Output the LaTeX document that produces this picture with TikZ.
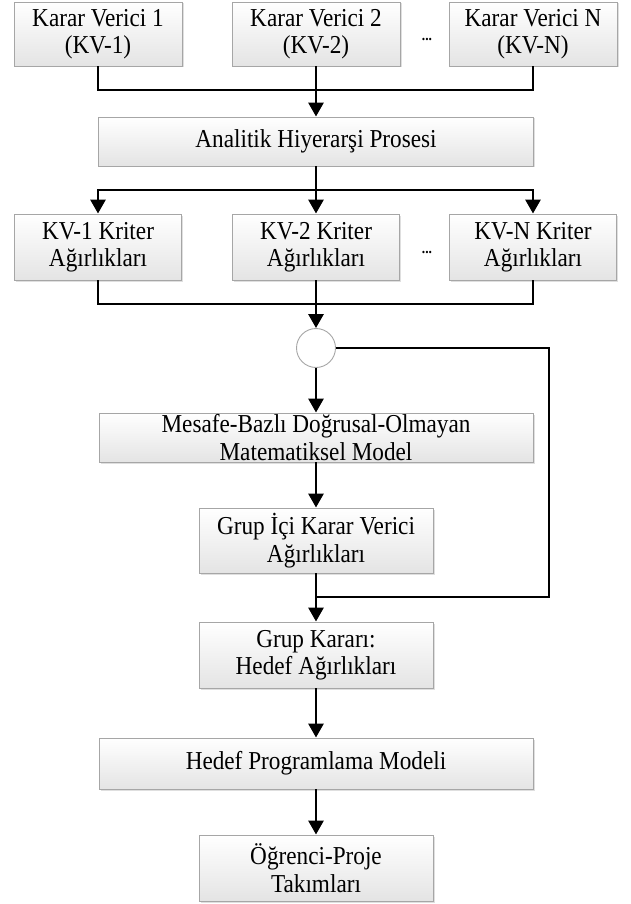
\documentclass[tikz,border=0pt]{standalone}
\usepackage{fontspec}
\setmainfont{Liberation Serif}[FakeStretch=0.9]
\usetikzlibrary{arrows.meta,shadows}
\definecolor{boxline}{HTML}{A6A6A6}
\definecolor{boxbot}{HTML}{E4E4E4}
\tikzset{
  box/.style={draw=boxline, line width=0.9pt, top color=white, bottom color=boxbot,
    align=center, inner sep=0pt, font=\fontsize{25.8}{27.5}\selectfont,
    drop shadow={shadow xshift=1.5pt, shadow yshift=-1.5pt, fill=black!25, opacity=0.5}},
  junction/.style={circle, draw=boxline, line width=0.9pt, fill=white, minimum size=39pt, inner sep=0pt},
  link/.style={line width=2.9pt, line cap=butt},
  flow/.style={link, -{Triangle[length=14pt,width=15pt]}},
  dots/.style={font=\fontsize{15}{15}\selectfont\bfseries, inner sep=0pt}
}
\begin{document}
\begin{tikzpicture}[x=1pt, y=-1pt]
\useasboundingbox (0,0) rectangle (631,904);

% decision makers
\node[box, minimum width=168pt, minimum height=64pt] (kv1) at (98,34) {Karar Verici 1\\(KV-1)};
\node[box, minimum width=168pt, minimum height=64pt] (kv2) at (316,34) {Karar Verici 2\\(KV-2)};
\node[box, minimum width=168pt, minimum height=64pt] (kvn) at (533,34) {Karar Verici N\\(KV-N)};
\node[dots] (d1) at (427,39) {...};

\node[box, minimum width=435pt, minimum height=49pt] (ahp) at (316,141.5) {Analitik Hiyerarşi Prosesi};

% criteria weights
\node[box, minimum width=167pt, minimum height=66pt] (kr1) at (98,247) {KV-1 Kriter\\Ağırlıkları};
\node[box, minimum width=167pt, minimum height=66pt] (kr2) at (316,247) {KV-2 Kriter\\Ağırlıkları};
\node[box, minimum width=167pt, minimum height=66pt] (krn) at (533,247) {KV-N Kriter\\Ağırlıkları};
\node[dots] (d2) at (427,252) {...};

\node[junction] (sum) at (316,348) {};

\node[box, minimum width=434pt, minimum height=49pt] (mm) at (316,437.5) {Mesafe-Bazlı Doğrusal-Olmayan\\Matematiksel Model};
\node[box, minimum width=234pt, minimum height=65pt] (gi) at (316,540.5) {Grup İçi Karar Verici\\Ağırlıkları};
\node[box, minimum width=234pt, minimum height=66pt] (gk) at (316,655) {Grup Kararı:\\Hedef Ağırlıkları};
\node[box, minimum width=434pt, minimum height=51pt] (hp) at (316,763.5) {Hedef Programlama Modeli};
\node[box, minimum width=234pt, minimum height=66pt] (op) at (316,868) {Öğrenci-Proje\\Takımları};

% junction points of the connectors
\coordinate (j1) at (316,90);
\coordinate (j2) at (316,190);
\coordinate (j3) at (316,304);
\coordinate (lp) at (549,597);
\coordinate (j4) at (316,597);

% connectors
\draw[link] (kv1.south) |- (j1) -| (kvn.south);
\draw[flow] (kv2.south) -- (ahp.north);

\draw[flow] (ahp.south) -- (kr2.north);
\draw[flow] (j2) -| (kr1.north);
\draw[flow] (j2) -| (krn.north);

\draw[link] (kr1.south) |- (j3) -| (krn.south);
\draw[flow] (kr2.south) -- (sum.north);

\draw[flow] (sum.south) -- (mm.north);
\draw[flow] (mm.south) -- (gi.north);
\draw[link] (sum.east) -| (lp) -- (j4);
\draw[flow] (gi.south) -- (gk.north);
\draw[flow] (gk.south) -- (hp.north);
\draw[flow] (hp.south) -- (op.north);
\end{tikzpicture}
\end{document}
